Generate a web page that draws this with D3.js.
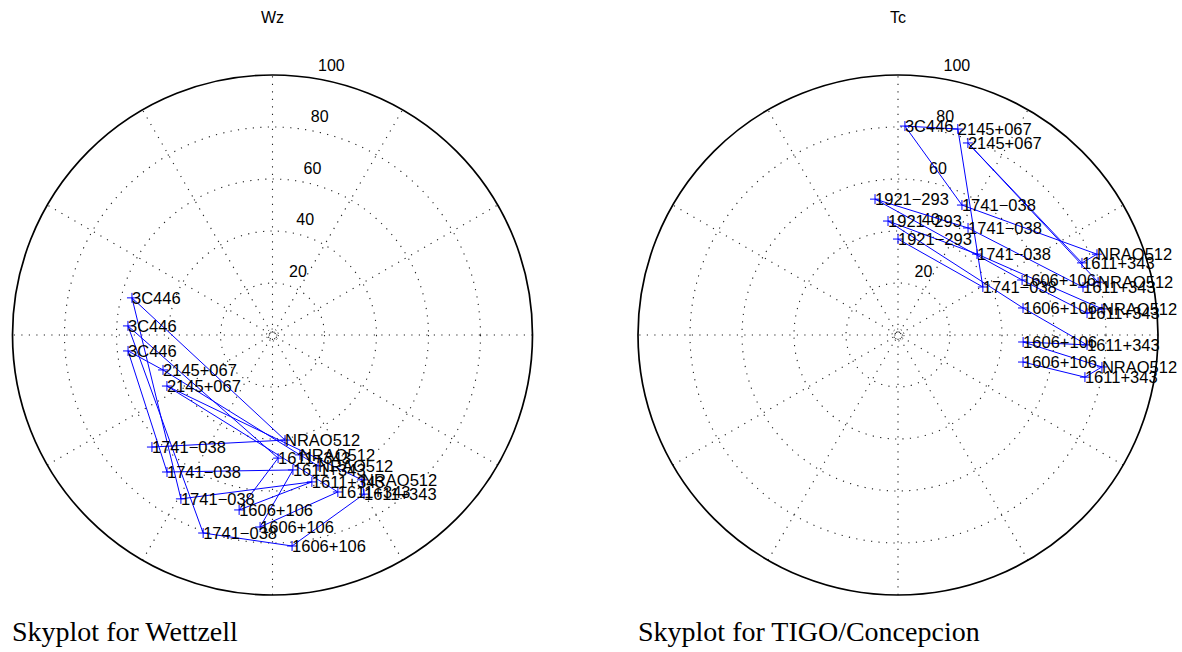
<!DOCTYPE html>
<html>
<head>
<meta charset="utf-8">
<script src="https://cdn.jsdelivr.net/npm/d3@7"></script>
<style>
  html, body { margin: 0; padding: 0; background: #fff; }
  svg { display: block; }
</style>
</head>
<body>
<svg id="chart" width="1182" height="652"></svg>
<script>
// ---------- data (schedule order) ----------
// Wettzell: source, polar angle (deg, counter-clockwise from east), radius (plot units)
const wzSource = ["1741−038","NRAO512","3C446","1741−038","1611+343","1606+106","1611+343","3C446",
  "1741−038","1606+106","1611+343","NRAO512","2145+067","1611+343","1606+106","1611+343",
  "1741−038","3C446","2145+067","NRAO512","NRAO512"];
const wzAngle = [222.9,276.8,165.2,240.8,285.0,259.2,272.6,176.4,
  250.7,275.3,299.9,301.7,205.8,292.6,266.3,278.6,
  232.4,186.3,197.7,282.9,289.2];
const wzRadius = [63.3,40.7,55.9,72.2,58.5,68.5,47.4,55.7,
  80.7,81.5,70.6,65.5,45.1,65.4,74.0,52.5,
  66.5,55.9,44.2,47.3,53.3];

// TIGO / Concepcion
const tcSource = ["1921−293","1741−038","2145+067","3C446","1741−038","NRAO512","1611+343","2145+067",
  "NRAO512","1611+343","1741−038","1921−293","1606+106","1611+343","NRAO512","1741−038",
  "1921−293","1606+106","1611+343","1606+106","NRAO512","1611+343","1606+106"];
const tcAngle = [90.0,29.5,73.8,88.1,63.8,22.1,21.4,70.0,
  14.8,14.5,56.8,99.6,23.9,6.6,7.3,45.7,
  95.0,12.2,357.0,356.8,351.1,347.3,347.8];
const tcRadius = [36.9,37.5,82.5,80.4,55.7,82.6,76.0,78.6,
  79.6,73.5,49.2,53.0,52.2,73.2,79.1,43.5,
  44.0,49.2,72.8,48.2,79.4,73.7,49.2];

const radialTicks = [20, 40, 60, 80, 100];
const spokeAngles = [30, 60, 90, 120, 150, 180];
const panelTitles = ["Wz", "Tc"];
const captions = ["Skyplot for Wettzell", "Skyplot for TIGO/Concepcion"];

// ---------- drawing ----------
const svg = d3.select("#chart");
const R = 260;
const rScale = d3.scaleLinear().domain([0, 100]).range([0, R]);
const toRad = d => d * Math.PI / 180;

const panels = [
  {cx: 272.5, cy: 335, title: panelTitles[0], caption: captions[0], capX: 12,
   pts: wzSource.map((s, i) => ({name: s, a: wzAngle[i], r: wzRadius[i]}))},
  {cx: 898, cy: 335, title: panelTitles[1], caption: captions[1], capX: 638,
   pts: tcSource.map((s, i) => ({name: s, a: tcAngle[i], r: tcRadius[i]}))}
];

panels.forEach(p => {
  const g = svg.append("g").attr("transform", `translate(${p.cx},${p.cy})`);
  const px = d => rScale(d.r) * Math.cos(toRad(d.a));
  const py = d => -rScale(d.r) * Math.sin(toRad(d.a));

  // spokes (full diameters, dotted)
  g.selectAll("line.spoke").data(spokeAngles).enter().append("line")
    .attr("x1", a => -R * Math.cos(toRad(a))).attr("y1", a => R * Math.sin(toRad(a)))
    .attr("x2", a => R * Math.cos(toRad(a))).attr("y2", a => -R * Math.sin(toRad(a)))
    .attr("stroke", "#222").attr("stroke-width", 1.1)
    .attr("stroke-dasharray", "1.2 6.3");

  // tiny centre ring
  g.append("circle").attr("r", 6).attr("fill", "none")
    .attr("stroke", "#222").attr("stroke-width", 1).attr("stroke-dasharray", "1.2 2.6");

  // radial circles
  g.selectAll("circle.ring").data(radialTicks).enter().append("circle")
    .attr("r", d => rScale(d)).attr("fill", "none")
    .attr("stroke", d => d === 100 ? "#000" : "#222")
    .attr("stroke-width", d => d === 100 ? 1.7 : 1.1)
    .attr("stroke-dasharray", d => d === 100 ? null : "1.2 6.3");

  // tick labels at 82 degrees
  g.selectAll("text.tick").data(radialTicks).enter().append("text")
    .attr("x", d => rScale(d + 1) * Math.cos(toRad(82)) + 9)
    .attr("y", d => -rScale(d + 1) * Math.sin(toRad(82)) - 4)
    .attr("font-family", "'Liberation Sans', Arial, sans-serif")
    .attr("font-size", 16).attr("fill", "#000")
    .text(d => d);

  // schedule line
  const line = d3.line().x(px).y(py);
  g.append("path").datum(p.pts).attr("d", line)
    .attr("fill", "none").attr("stroke", "#0000ff").attr("stroke-width", 1);

  // markers
  const m = 5;
  g.selectAll("path.mk").data(p.pts).enter().append("path")
    .attr("d", d => `M${px(d) - m},${py(d)}H${px(d) + m}M${px(d)},${py(d) - m}V${py(d) + m}`)
    .attr("stroke", "#0000ff").attr("stroke-width", 1).attr("fill", "none");

  // labels
  g.selectAll("text.lbl").data(p.pts).enter().append("text")
    .attr("x", px).attr("y", d => py(d) + 6)
    .attr("font-family", "'Liberation Sans', Arial, sans-serif")
    .attr("font-size", 16.5).attr("fill", "#000")
    .text(d => d.name);

  // panel title
  svg.append("text").attr("x", p.cx).attr("y", 23).attr("text-anchor", "middle")
    .attr("font-family", "'Liberation Sans', Arial, sans-serif").attr("font-size", 16)
    .text(p.title);

  // caption
  svg.append("text").attr("x", p.capX).attr("y", 641)
    .attr("font-family", "'Liberation Serif', 'Times New Roman', serif").attr("font-size", 28)
    .text(p.caption);
});
</script>
</body>
</html>
